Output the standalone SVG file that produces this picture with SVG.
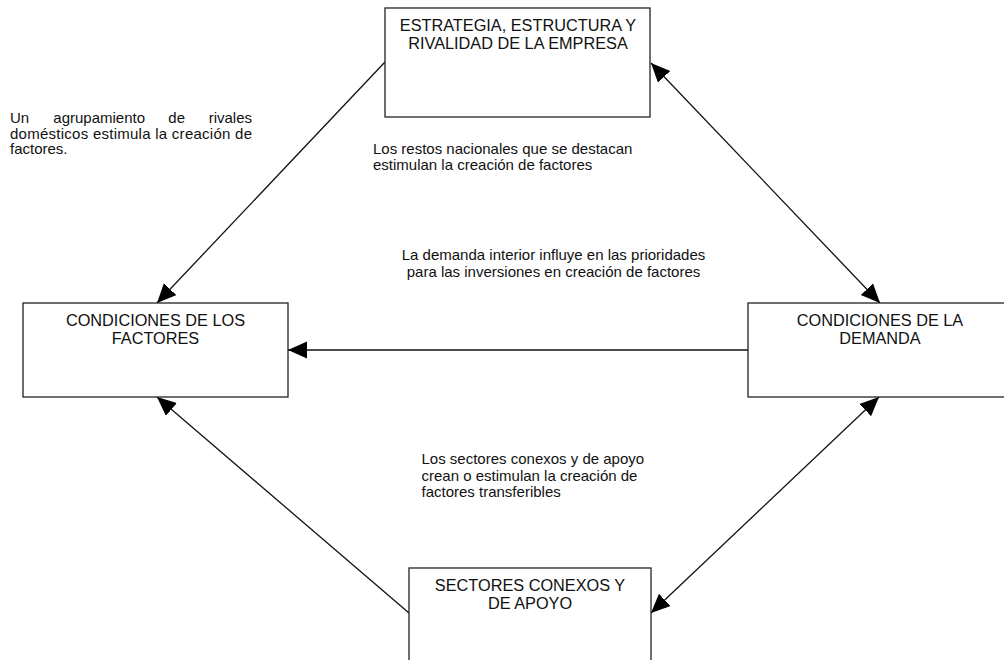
<svg xmlns="http://www.w3.org/2000/svg" width="1004" height="660" viewBox="0 0 1004 660">
<style>
.box{fill:#fff;stroke:#222;stroke-width:1.3}
.t{font-family:"Liberation Sans",Arial,sans-serif;font-size:16.3px;fill:#111;text-anchor:middle}
.l{font-family:"Liberation Sans",Arial,sans-serif;font-size:15px;fill:#111}
.c{stroke:#111;stroke-width:1.3;fill:none}
</style>
<defs>
<marker id="ah" markerUnits="userSpaceOnUse" markerWidth="20" markerHeight="18" refX="19" refY="8.5" orient="auto-start-reverse" viewBox="0 0 20 18">
<path d="M0,0 L19,8.5 L0,17 z" fill="#000"/>
</marker>
</defs>
<rect width="1004" height="660" fill="#fff"/>
<g id="connectors">
<line class="c" x1="385" y1="62" x2="157" y2="303" marker-end="url(#ah)"/>
<line class="c" x1="651" y1="63" x2="880" y2="303" marker-start="url(#ah)" marker-end="url(#ah)"/>
<line class="c" x1="748" y1="350" x2="288" y2="350" marker-end="url(#ah)"/>
<line class="c" x1="651" y1="613" x2="879" y2="397" marker-start="url(#ah)" marker-end="url(#ah)"/>
<line class="c" x1="409" y1="613" x2="157" y2="397" marker-end="url(#ah)"/>
</g>
<g id="node-estrategia">
<rect class="box" x="385" y="8" width="265" height="109"/>
<text class="t" x="518" y="30.5">ESTRATEGIA, ESTRUCTURA Y</text>
<text class="t" x="518" y="48.5">RIVALIDAD DE LA EMPRESA</text>
</g>
<g id="node-factores">
<rect class="box" x="23" y="303" width="265" height="94"/>
<text class="t" x="155.5" y="325.5">CONDICIONES DE LOS</text>
<text class="t" x="155.5" y="343.5">FACTORES</text>
</g>
<g id="node-demanda">
<rect class="box" x="748" y="303" width="265" height="94"/>
<text class="t" x="880" y="325.5">CONDICIONES DE LA</text>
<text class="t" x="880" y="343.5">DEMANDA</text>
</g>
<g id="node-sectores">
<rect class="box" x="409" y="568" width="242" height="109"/>
<text class="t" x="530" y="590.5">SECTORES CONEXOS Y</text>
<text class="t" x="530" y="608.5">DE APOYO</text>
</g>
<g id="labels">
<text class="l" y="123"><tspan x="10">Un</tspan><tspan x="53.3">agrupamiento</tspan><tspan x="168.3">de</tspan><tspan x="208.7">rivales</tspan></text>
<text class="l" x="10" y="138.5" textLength="242" lengthAdjust="spacing">domésticos estimula la creación de</text>
<text class="l" x="10" y="154">factores.</text>
<text class="l" x="373" y="153.5">Los restos nacionales que se destacan</text>
<text class="l" x="373" y="169.5">estimulan la creación de factores</text>
<text class="l" x="553.5" y="260" text-anchor="middle">La demanda interior influye en las prioridades</text>
<text class="l" x="553.5" y="277" text-anchor="middle">para las inversiones en creación de factores</text>
<text class="l" x="421.5" y="464">Los sectores conexos y de apoyo</text>
<text class="l" x="421.5" y="480.5">crean o estimulan la creación de</text>
<text class="l" x="421.5" y="497">factores transferibles</text>
</g>
</svg>
